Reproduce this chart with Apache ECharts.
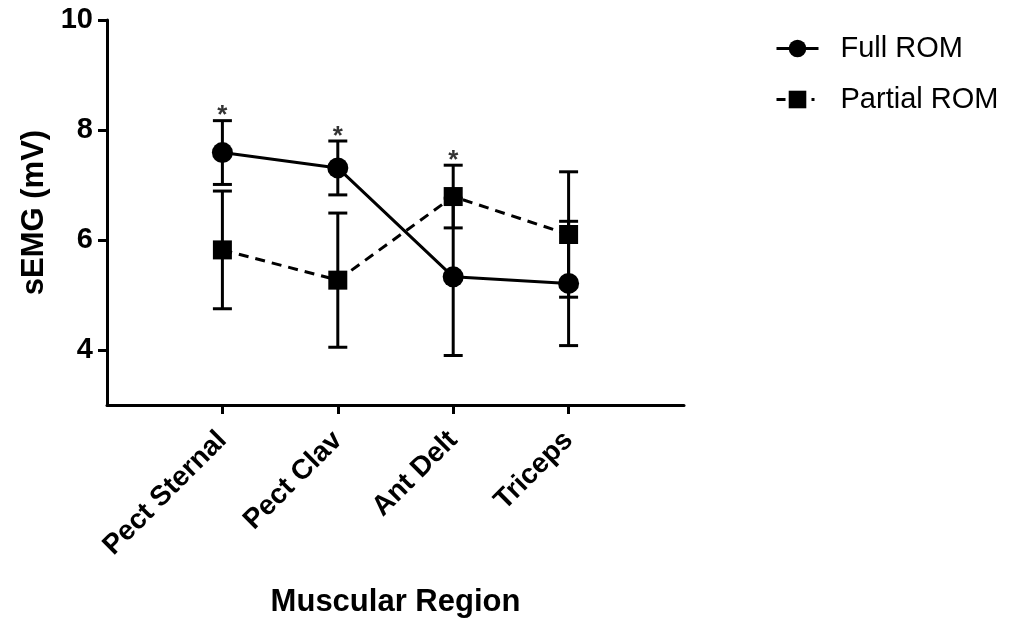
<!DOCTYPE html>
<html>
<head>
<meta charset="utf-8">
<script src="https://cdn.jsdelivr.net/npm/echarts@6/dist/echarts.min.js"></script>
<style>html,body{margin:0;padding:0;background:#fff}#chart{width:1018px;height:619px}</style>
</head>
<body>
<div id="chart"></div>
<script>
const categories = ['Pect Sternal', 'Pect Clav', 'Ant Delt', 'Triceps'];
const fullMean = [7.59, 7.31, 5.33, 5.21];
const fullErr = [0.58, 0.49, 1.43, 1.13];
const partialMean = [5.82, 5.27, 6.79, 6.10];
const partialErr = [1.07, 1.22, 0.57, 1.14];
const significance = ['*', '*', '*', ''];
const yTicks = [4, 6, 8, 10];
const seriesNames = ['Full ROM', 'Partial ROM'];

const FONT = "'Liberation Sans', Arial, sans-serif";
const xIdx = categories.map((c, i) => i);

function errData(mean, err) {
  return mean.map((m, i) => [i, m - err[i], m + err[i]]);
}
function errRender(params, api) {
  const x = api.value(0);
  const lo = api.coord([x, api.value(1)]);
  const hi = api.coord([x, api.value(2)]);
  const w = 9.5;
  const st = { stroke: '#000', lineWidth: 3 };
  return {
    type: 'group',
    children: [
      { type: 'line', shape: { x1: lo[0], y1: lo[1], x2: hi[0], y2: hi[1] }, style: st },
      { type: 'line', shape: { x1: hi[0] - w, y1: hi[1], x2: hi[0] + w, y2: hi[1] }, style: st },
      { type: 'line', shape: { x1: lo[0] - w, y1: lo[1], x2: lo[0] + w, y2: lo[1] }, style: st }
    ]
  };
}

const starData = [];
significance.forEach((s, i) => {
  if (s) starData.push({ value: [i, Math.max(fullMean[i] + fullErr[i], partialMean[i] + partialErr[i])], star: s });
});

const chart = echarts.init(document.getElementById('chart'));
chart.setOption({
  animation: false,
  backgroundColor: '#fff',
  grid: { left: 107, right: 334, top: 20, bottom: 214, containLabel: false, outerBoundsMode: 'none' },
  legend: {
    data: [
      { name: seriesNames[0] },
      { name: seriesNames[1], lineStyle: { type: [9, 26, 3, 20], width: 3 } }
    ],
    left: 770, top: 29,
    orient: 'vertical',
    itemWidth: 42, itemHeight: 22, itemGap: 22,
    lineStyle: { width: 3 },
    textStyle: { fontFamily: FONT, fontSize: 29, color: '#000', padding: [0, 0, 0, 17] }
  },
  xAxis: {
    type: 'value', min: -1, max: 4,
    name: 'Muscular Region', nameLocation: 'middle', nameGap: 182,
    nameTextStyle: { fontFamily: FONT, fontSize: 31, fontWeight: 'bold', color: '#000' },
    axisLine: { show: true, onZero: false, lineStyle: { color: '#000', width: 3 } },
    axisTick: { show: true, length: 9, lineStyle: { color: '#000', width: 3 }, customValues: xIdx },
    axisLabel: {
      customValues: xIdx, rotate: 45, margin: 31,
      fontFamily: FONT, fontSize: 28, fontWeight: 'bold', color: '#000',
      formatter: v => categories[Math.round(v)] || ''
    },
    splitLine: { show: false }
  },
  yAxis: {
    type: 'value', min: 3, max: 10,
    name: 'sEMG (mV)', nameLocation: 'middle', nameGap: 57, nameRotate: 90,
    nameTextStyle: { fontFamily: FONT, fontSize: 31, fontWeight: 'bold', color: '#000' },
    axisLine: { show: true, onZero: false, lineStyle: { color: '#000', width: 3 } },
    axisTick: { show: true, length: 9, lineStyle: { color: '#000', width: 3 }, customValues: yTicks },
    axisLabel: { customValues: yTicks, margin: 14, fontFamily: FONT, fontSize: 29, fontWeight: 'bold', color: '#000' },
    splitLine: { show: false }
  },
  series: [
    { type: 'custom', name: 'errFull', renderItem: errRender, data: errData(fullMean, fullErr), z: 2, silent: true },
    { type: 'custom', name: 'errPartial', renderItem: errRender, data: errData(partialMean, partialErr), z: 2, silent: true },
    {
      type: 'line', name: seriesNames[0], data: fullMean.map((m, i) => [i, m]),
      symbol: 'circle', symbolSize: 21, z: 3,
      itemStyle: { color: '#000' }, lineStyle: { color: '#000', width: 3 }
    },
    {
      type: 'line', name: seriesNames[1], data: partialMean.map((m, i) => [i, m]),
      symbol: 'rect', symbolSize: 19, z: 3,
      itemStyle: { color: '#000' }, lineStyle: { color: '#000', width: 3, type: [10, 7] }
    },
    {
      type: 'scatter', name: 'sig', data: starData, symbolSize: 1, itemStyle: { color: 'rgba(0,0,0,0)' }, z: 4,
      label: { show: true, position: 'top', distance: -9, formatter: p => p.data.star, fontFamily: FONT, fontSize: 26, fontWeight: 'bold', color: '#000' }
    }
  ]
});
</script>
</body>
</html>
